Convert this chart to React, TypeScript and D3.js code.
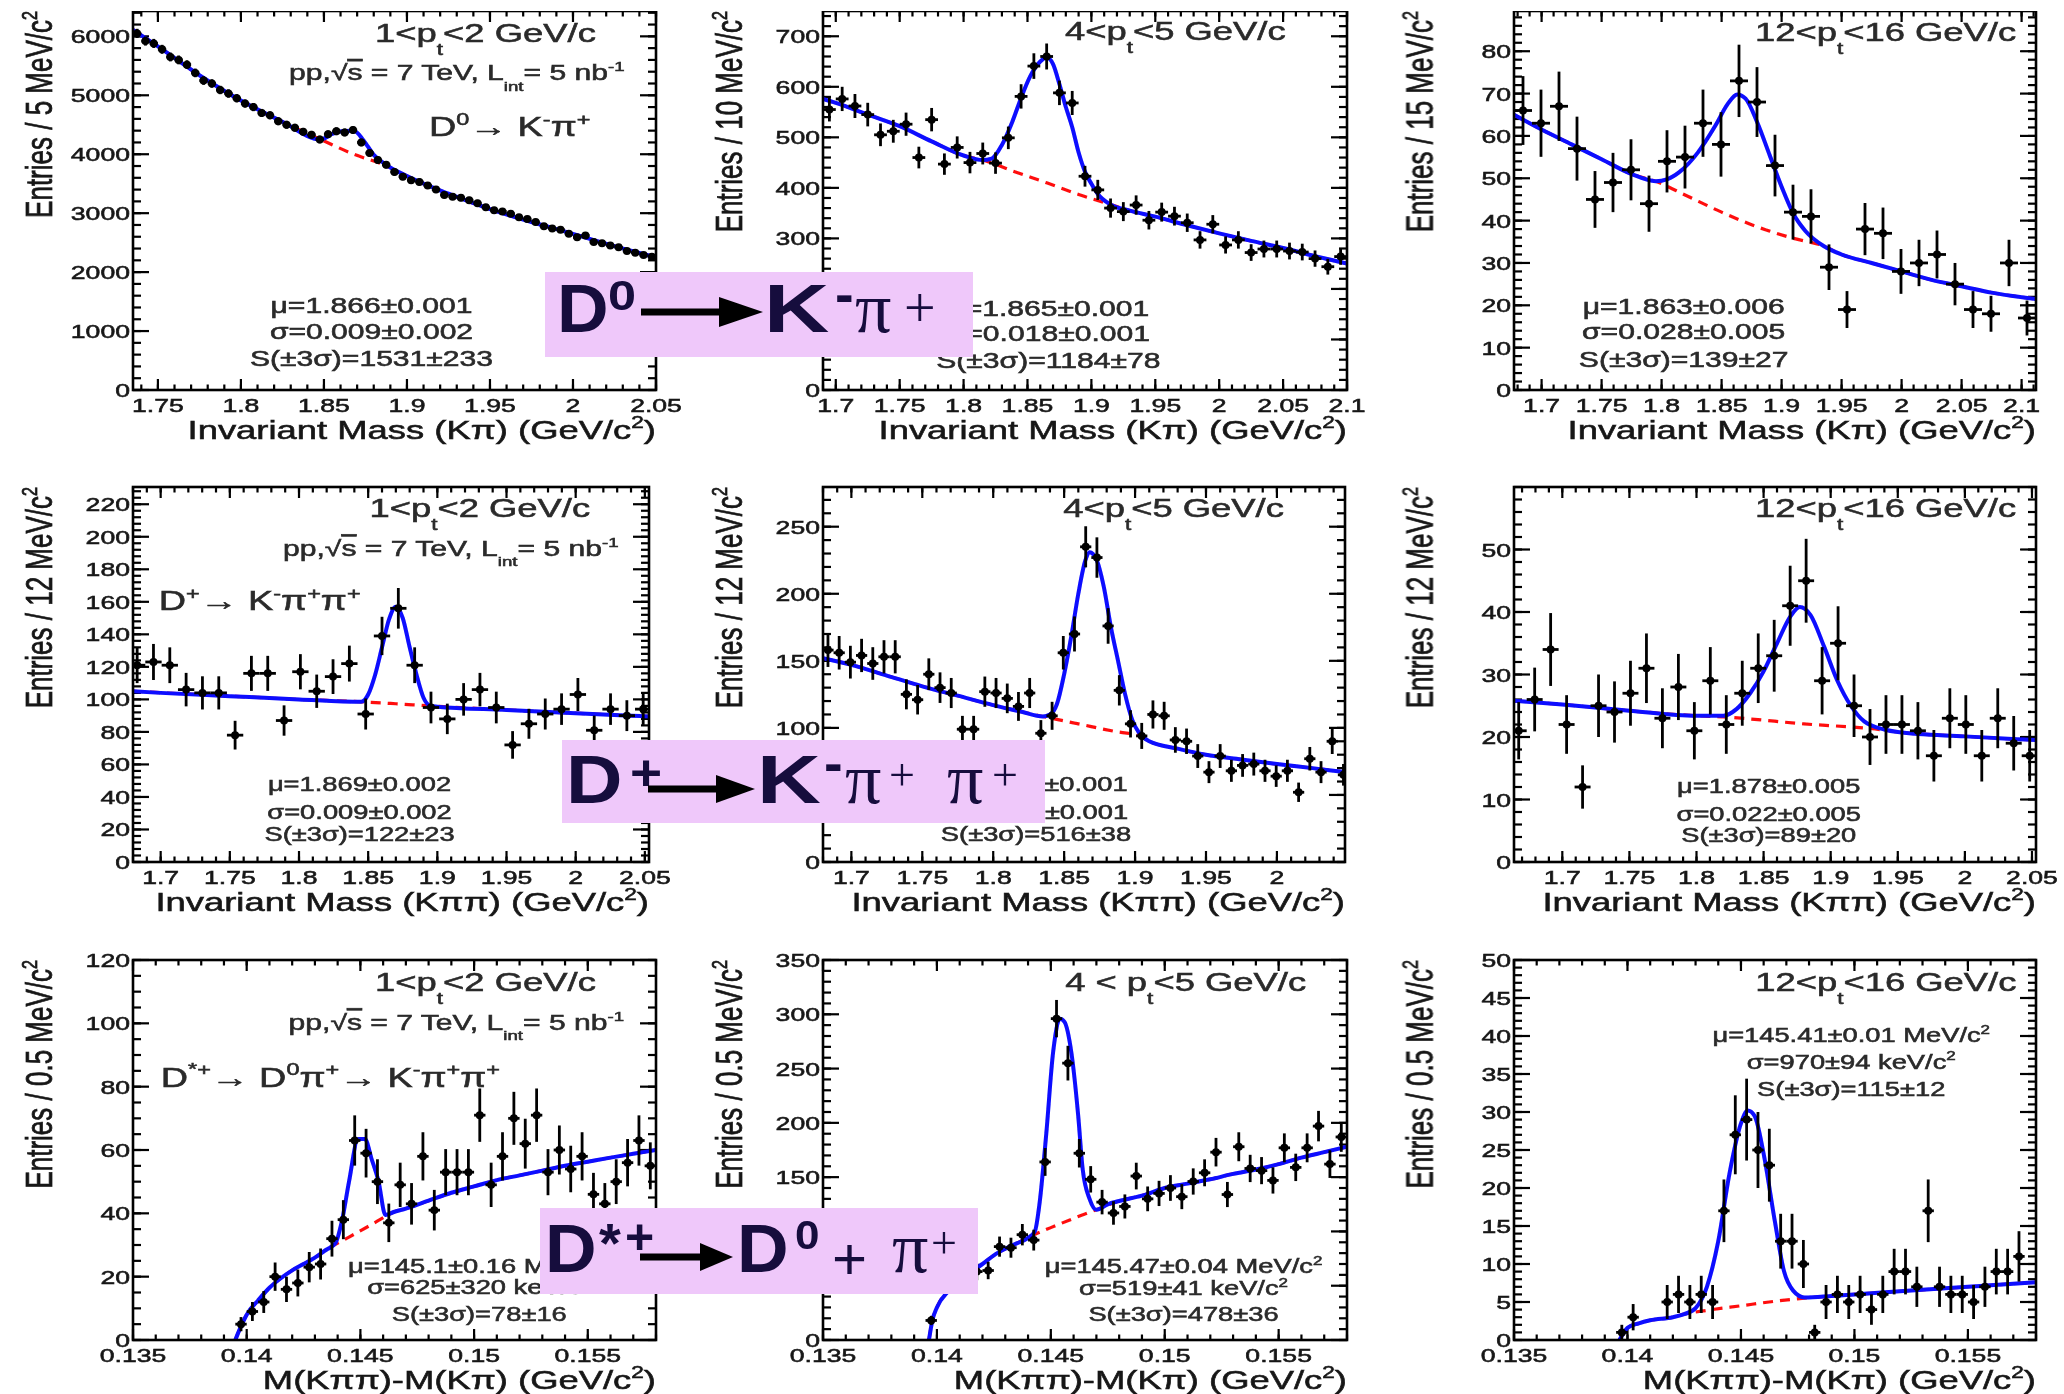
import React from "react";
import * as d3 from "d3";

type Pt = [number, number];
type Seg = { t: string; s?: "sup" | "sub"; o?: boolean };

const SX = 1.4;
const FONT = "'Liberation Sans', Arial, Helvetica, sans-serif";
const SERIF = "'Liberation Serif', 'Times New Roman', serif";
const INK = "#151515";
const NOTE = "#2a2a2a";
const BOX_FILL = "#efc8fa";
const BOX_INK = "#14083c";

// ================= Row 1 : D0 -> K- pi+ =================
// 1 < pt < 2 GeV/c
const d0aStart = 1.7375;
const d0aBin = 0.005;
const d0aCounts = [
  6050, 5920, 5880, 5780, 5650, 5600, 5520, 5380, 5250, 5200,
  5090, 5030, 4950, 4860, 4800, 4700, 4660, 4560, 4500, 4450,
  4380, 4330, 4250, 4340, 4390, 4370, 4410, 4200, 4020, 3900,
  3820, 3700, 3620, 3560, 3530, 3470, 3400, 3310, 3280, 3260,
  3220, 3170, 3100, 3050, 3030, 2990, 2930, 2900, 2850, 2780,
  2740, 2720, 2650, 2590, 2620, 2510, 2490, 2450, 2420, 2360,
  2330, 2290, 2260,
];
const d0aFit: Pt[] = [
  [1.735, 6110], [1.75, 5830], [1.775, 5340], [1.8, 4910], [1.825, 4550], [1.848, 4250],
  [1.855, 4345], [1.862, 4395], [1.868, 4400], [1.874, 4230], [1.88, 3990], [1.887, 3830],
  [1.9, 3630], [1.925, 3330], [1.95, 3070], [1.975, 2850], [2.0, 2650], [2.025, 2440], [2.05, 2250],
];
const d0aBkg: Pt[] = [
  [1.735, 6110], [1.75, 5830], [1.775, 5340], [1.8, 4910], [1.825, 4550], [1.848, 4250],
  [1.868, 4000], [1.887, 3810], [1.9, 3630], [1.925, 3330], [1.95, 3070], [1.975, 2850],
  [2.0, 2650], [2.025, 2440], [2.05, 2250],
];
// 4 < pt < 5 GeV/c
const d0bStart = 1.695;
const d0bBin = 0.01;
const d0bCounts = [
  555, 576, 562, 545, 505, 512, 526, 460, 535, 447,
  480, 450, 468, 449, 499, 581, 641, 660, 588, 568,
  423, 396, 360, 353, 366, 336, 352, 344, 331, 297,
  328, 287, 297, 272, 279, 279, 275, 273, 260, 244, 264,
];
const d0bFit: Pt[] = [
  [1.69, 576], [1.7, 568], [1.725, 545], [1.75, 522], [1.775, 492], [1.8, 464], [1.815, 455],
  [1.822, 458], [1.83, 485], [1.838, 530], [1.845, 578], [1.852, 620], [1.86, 650], [1.865, 658],
  [1.87, 645], [1.875, 605], [1.88, 560], [1.885, 520], [1.89, 470], [1.895, 432], [1.9, 408],
  [1.905, 388], [1.915, 367], [1.93, 355], [1.95, 343], [1.975, 326], [2.0, 310], [2.025, 295],
  [2.05, 281], [2.075, 265], [2.1, 250],
];
const d0bBkg: Pt[] = [
  [1.69, 576], [1.7, 568], [1.725, 545], [1.75, 522], [1.775, 492], [1.8, 464], [1.815, 455],
  [1.84, 432], [1.865, 410], [1.89, 387], [1.915, 367], [1.93, 355], [1.95, 343], [1.975, 326],
  [2.0, 310], [2.025, 295], [2.05, 281], [2.075, 265], [2.1, 250],
];
// 12 < pt < 16 GeV/c
const d0cStart = 1.6845;
const d0cBin = 0.015;
const d0cCounts = [
  66, 63, 67, 57, 45, 49, 52, 44, 54, 55,
  63, 58, 73, 68, 53, 42, 41, 29, 19, 38,
  37, 28, 30, 32, 25, 19, 18, 30, 17,
];
const d0cFit: Pt[] = [
  [1.677, 65], [1.7, 61.5], [1.725, 58], [1.75, 54.5], [1.775, 51], [1.795, 49.3], [1.805, 49.8],
  [1.815, 51.5], [1.83, 56], [1.845, 62.5], [1.855, 67.5], [1.863, 69.8], [1.87, 68.8], [1.88, 63],
  [1.89, 55.5], [1.9, 48], [1.91, 41.5], [1.92, 37.5], [1.935, 34], [1.95, 32], [1.975, 30],
  [2.0, 28], [2.025, 26], [2.05, 24.5], [2.075, 23], [2.112, 21.5],
];
const d0cBkg: Pt[] = [
  [1.677, 65], [1.7, 61.5], [1.725, 58], [1.75, 54.5], [1.775, 51], [1.795, 49.3], [1.82, 46],
  [1.85, 42], [1.88, 38.5], [1.91, 35.8], [1.935, 34], [1.95, 32], [1.975, 30], [2.0, 28],
  [2.025, 26], [2.05, 24.5], [2.075, 23], [2.112, 21.5],
];

// ================= Row 2 : D+ -> K- pi+ pi+ =================
const dpaStart = 1.683;
const dpaBin = 0.0118;
const dpaCounts = [
  121, 123, 121, 106, 104, 104, 78, 116, 116, 87,
  117, 105, 114, 122, 91, 139, 156, 121, 95, 88,
  100, 106, 95, 72, 85, 91, 94, 103, 81, 94, 90, 94,
];
const dpaFit: Pt[] = [
  [1.68, 105], [1.7, 104], [1.75, 102], [1.8, 100], [1.845, 98.5], [1.85, 103], [1.855, 115],
  [1.86, 132], [1.865, 149], [1.87, 157], [1.875, 150], [1.88, 132], [1.885, 115], [1.89, 101],
  [1.895, 96], [1.9, 95.5], [1.95, 93.5], [2.0, 91.5], [2.053, 89.5],
];
const dpaBkg: Pt[] = [
  [1.68, 105], [1.75, 102], [1.8, 100], [1.845, 98.5], [1.87, 97.3], [1.895, 96], [1.95, 93.5],
  [2.0, 91.5], [2.053, 89.5],
];
const dpbStart = 1.6835;
const dpbBin = 0.0079;
const dpbCounts = [
  158, 156, 149, 154, 148, 153, 153, 125, 121, 140,
  130, 126, 99, 99, 127, 126, 122, 116, 126, 96,
  109, 156, 170, 235, 227, 176, 128, 103, 94, 110,
  109, 91, 90, 79, 67, 79, 68, 72, 73, 68,
  64, 68, 52, 77, 67, 90, 65,
];
const dpbFit: Pt[] = [
  [1.68, 152], [1.7, 147], [1.725, 139], [1.75, 131], [1.775, 124], [1.8, 117], [1.82, 112],
  [1.835, 108.5], [1.84, 110], [1.845, 118], [1.85, 140], [1.855, 168], [1.86, 200], [1.865, 225],
  [1.868, 231], [1.873, 225], [1.878, 205], [1.883, 175], [1.888, 150], [1.893, 125], [1.898, 106],
  [1.903, 96], [1.91, 90], [1.93, 84.5], [1.95, 80], [1.975, 76.5], [2.0, 73], [2.025, 70], [2.048, 67],
];
const dpbBkg: Pt[] = [
  [1.68, 152], [1.7, 147], [1.725, 139], [1.75, 131], [1.775, 124], [1.8, 117], [1.82, 112],
  [1.835, 108.5], [1.86, 103], [1.885, 97.5], [1.903, 94], [1.91, 90], [1.93, 84.5], [1.95, 80],
  [1.975, 76.5], [2.0, 73], [2.025, 70], [2.048, 67],
];
const dpcStart = 1.6675;
const dpcBin = 0.0119;
const dpcCounts = [
  21, 26, 34, 22, 12, 25, 24, 27, 31, 23,
  28, 21, 29, 22, 27, 31, 33, 41, 45, 29,
  35, 25, 20, 22, 22, 21, 17, 23, 22, 17, 23, 19, 17,
];
const dpcFit: Pt[] = [
  [1.664, 25.8], [1.7, 25.2], [1.75, 24.2], [1.8, 23.4], [1.82, 23.4], [1.83, 24.5], [1.84, 27],
  [1.85, 30.5], [1.86, 35], [1.87, 39.3], [1.877, 40.8], [1.885, 39.5], [1.895, 34.5], [1.905, 29],
  [1.915, 25], [1.925, 22.5], [1.94, 21.2], [1.95, 20.8], [2.0, 20.1], [2.053, 19.5],
];
const dpcBkg: Pt[] = [
  [1.664, 25.8], [1.7, 25.2], [1.75, 24.2], [1.8, 23.4], [1.82, 23.2], [1.88, 22.1], [1.94, 21.1],
  [1.95, 20.8], [2.0, 20.1], [2.053, 19.5],
];

// ================= Row 3 : D*+ -> D0 pi+ =================
const dsaStart = 0.13975;
const dsaBin = 0.0005;
const dsaCounts = [
  5, 9, 12, 20, 16, 18, 23, 24, 32, 38,
  63, 59, 50, 37, 49, 43, 58, 41, 53, 53,
  53, 71, 49, 58, 70, 62, 71, 53, 60, 54,
  58, 46, 43, 50, 56, 63, 55,
];
const dsaFit: Pt[] = [
  [0.1395, 0], [0.1397, 3.5], [0.14, 8], [0.1405, 12.5], [0.141, 16.5], [0.1415, 19.5], [0.142, 22],
  [0.1425, 24], [0.143, 26], [0.1435, 28.5], [0.1439, 30.5], [0.1442, 38], [0.1445, 50],
  [0.1449, 63.5], [0.1452, 63.5], [0.1455, 57], [0.1458, 50], [0.1461, 39.5], [0.1465, 40.5],
  [0.147, 41.5], [0.148, 44], [0.149, 46.5], [0.15, 48.5], [0.151, 50.5], [0.152, 52], [0.153, 53.5],
  [0.154, 55], [0.155, 56.3], [0.156, 57.6], [0.157, 58.8], [0.158, 60],
];
const dsaBkg: Pt[] = [
  [0.1395, 0], [0.1397, 3.5], [0.14, 8], [0.1405, 12.5], [0.141, 16.5], [0.1415, 19.5], [0.142, 22],
  [0.1425, 24], [0.143, 26], [0.1435, 28.5], [0.1445, 32.5], [0.1455, 36.5], [0.1461, 39],
  [0.1465, 40.5], [0.147, 41.5], [0.148, 44], [0.149, 46.5], [0.15, 48.5], [0.151, 50.5],
  [0.152, 52], [0.153, 53.5], [0.154, 55], [0.155, 56.3], [0.156, 57.6], [0.157, 58.8], [0.158, 60],
];
const dsbStart = 0.13975;
const dsbBin = 0.0005;
const dsbCounts = [
  18, 50, 55, 60, 63, 64, 86, 85, 97, 92,
  164, 296, 255, 172, 148, 127, 117, 123, 151, 130,
  135, 140, 132, 146, 154, 173, 134, 178, 158, 156,
  147, 177, 159, 177, 197, 162, 187,
];
const dsbFit: Pt[] = [
  [0.13965, 0], [0.1398, 18], [0.14, 30], [0.1405, 45], [0.141, 55], [0.1415, 63], [0.142, 70],
  [0.1425, 78], [0.143, 84], [0.1435, 89], [0.144, 94], [0.1443, 100], [0.1445, 125], [0.1448, 190],
  [0.1451, 265], [0.1454, 296], [0.1456, 293], [0.1459, 265], [0.1462, 207], [0.1464, 157],
  [0.1467, 130], [0.147, 120], [0.1475, 125], [0.148, 128], [0.149, 133], [0.15, 140], [0.151, 144],
  [0.152, 148], [0.153, 153], [0.154, 157], [0.155, 162], [0.156, 168], [0.157, 173], [0.158, 178],
];
const dsbBkg: Pt[] = [
  [0.13965, 0], [0.1398, 18], [0.14, 30], [0.1405, 45], [0.141, 55], [0.1415, 63], [0.142, 70],
  [0.1425, 78], [0.143, 84], [0.1435, 89], [0.144, 94.5], [0.145, 103.5], [0.146, 112], [0.147, 120],
  [0.148, 128], [0.149, 133], [0.15, 140], [0.151, 144], [0.152, 148], [0.153, 153], [0.154, 157],
  [0.155, 162], [0.156, 168], [0.157, 173], [0.158, 178],
];
const dscStart = 0.13975;
const dscBin = 0.0005;
const dscCounts: (number | null)[] = [
  1, 3, null, null, 5, 6, 5, 6, 5, 17,
  27, 29, 25, 23, 13, 13, 10, 1, 5, 6,
  5, 6, 4, 6, 9, 9, 7, 17, 7, 6,
  6, 5, 7, 9, 9, 11,
];
const dscFit: Pt[] = [
  [0.13965, 0], [0.1398, 0.8], [0.14, 1.6], [0.1405, 2.2], [0.141, 2.6], [0.142, 3.0], [0.1425, 3.4],
  [0.143, 4.2], [0.1435, 7], [0.144, 13], [0.1445, 22], [0.145, 28.5], [0.1453, 30.2], [0.1456, 29.5],
  [0.146, 24.5], [0.1465, 15.5], [0.1469, 9], [0.1473, 6.5], [0.1478, 5.6], [0.149, 5.8], [0.15, 6.0],
  [0.152, 6.4], [0.154, 6.8], [0.156, 7.2], [0.158, 7.6],
];
const dscBkg: Pt[] = [
  [0.13965, 0], [0.1398, 0.8], [0.14, 1.6], [0.1405, 2.2], [0.141, 2.6], [0.142, 3.0], [0.1425, 3.4],
  [0.1435, 3.9], [0.145, 4.5], [0.1465, 5.1], [0.1478, 5.5], [0.149, 5.8], [0.15, 6.0], [0.152, 6.4],
  [0.154, 6.8], [0.156, 7.2], [0.158, 7.6],
];

// ================= axes =================
const xTicksKpi = [1.75, 1.8, 1.85, 1.9, 1.95, 2, 2.05];
const xTicksKpi2 = [1.7, 1.75, 1.8, 1.85, 1.9, 1.95, 2, 2.05, 2.1];
const xTicksKpipi = [1.7, 1.75, 1.8, 1.85, 1.9, 1.95, 2, 2.05];
const xTicksDelta = [0.135, 0.14, 0.145, 0.15, 0.155];
const yTicksA = [0, 1000, 2000, 3000, 4000, 5000, 6000];
const yTicksB = [0, 100, 200, 300, 400, 500, 600, 700];
const yTicksC = [0, 10, 20, 30, 40, 50, 60, 70, 80];
const yTicksD = [0, 20, 40, 60, 80, 100, 120, 140, 160, 180, 200, 220];
const yTicksE = [0, 50, 100, 150, 200, 250];
const yTicksF = [0, 10, 20, 30, 40, 50];
const yTicksG = [0, 20, 40, 60, 80, 100, 120];
const yTicksH = [0, 50, 100, 150, 200, 250, 300, 350];
const yTicksI = [0, 5, 10, 15, 20, 25, 30, 35, 40, 45, 50];

const c2: Seg = { t: "2", s: "sup" };
const xTitleKpi: Seg[] = [{ t: "Invariant Mass (Kπ) (GeV/c" }, c2, { t: ")" }];
const xTitleKpipi: Seg[] = [{ t: "Invariant Mass (Kππ) (GeV/c" }, c2, { t: ")" }];
const xTitleDelta: Seg[] = [{ t: "M(Kππ)-M(Kπ) (GeV/c" }, c2, { t: ")" }];
const yT = (w: string): Seg[] => [{ t: `Entries / ${w} MeV/c` }, c2];
const ptT = (a: string, b: string, sp = ""): Seg[] => [
  { t: `${a}${sp}<${sp}p` }, { t: "t", s: "sub" }, { t: `<${b} GeV/c` },
];
const ppLine: Seg[] = [
  { t: "pp,√" }, { t: "s", o: true }, { t: " = 7 TeV, L" }, { t: "int", s: "sub" }, { t: "= 5 nb" },
  { t: "-1", s: "sup" },
];
const decayD0: Seg[] = [
  { t: "D" }, { t: "0", s: "sup" }, { t: "→ K" }, { t: "-", s: "sup" }, { t: "π" }, { t: "+", s: "sup" },
];
const decayDp: Seg[] = [
  { t: "D" }, { t: "+", s: "sup" }, { t: "→ K" }, { t: "-", s: "sup" }, { t: "π" }, { t: "+", s: "sup" },
  { t: "π" }, { t: "+", s: "sup" },
];
const decayDs: Seg[] = [
  { t: "D" }, { t: "*+", s: "sup" }, { t: "→ D" }, { t: "0", s: "sup" }, { t: "π" }, { t: "+", s: "sup" },
  { t: "→ K" }, { t: "-", s: "sup" }, { t: "π" }, { t: "+", s: "sup" }, { t: "π" }, { t: "+", s: "sup" },
];
const st = (s: string): Seg[] => [{ t: s }];
const stc = (s: string): Seg[] => [{ t: s }, c2];

type Note = { segs: Seg[]; fx: number; fy: number; size: number; anchor: string };
type Panel = {
  id: string;
  frame: [number, number, number, number];
  xDomain: Pt; yDomain: Pt;
  xTicks: number[]; yTicks: number[]; xMinor: number; yMinor: number;
  start: number; bin: number; counts: (number | null)[];
  fit: Pt[]; bkg: Pt[];
  yTitle: Seg[]; xTitle: Seg[];
  notes: Note[];
};

const statNotes = (lines: Seg[][], fx: number, fys: number[], size: number): Note[] =>
  lines.map((segs, i) => ({ segs, fx, fy: fys[i], size, anchor: "middle" }));

const panels: Panel[] = [
  {
    id: "a", frame: [133, 656, 11, 390], xDomain: [1.735, 2.05], yDomain: [0, 6430],
    xTicks: xTicksKpi, yTicks: yTicksA, xMinor: 0.01, yMinor: 200,
    start: d0aStart, bin: d0aBin, counts: d0aCounts, fit: d0aFit, bkg: d0aBkg,
    yTitle: yT("5"), xTitle: xTitleKpi,
    notes: [
      { segs: ptT("1", "2"), fx: 0.885, fy: 0.081, size: 26, anchor: "end" },
      { segs: ppLine, fx: 0.94, fy: 0.183, size: 21.5, anchor: "end" },
      { segs: decayD0, fx: 0.566, fy: 0.33, size: 27, anchor: "start" },
      ...statNotes([st("μ=1.866±0.001"), st("σ=0.009±0.002"), st("S(±3σ)=1531±233")], 0.456, [0.798, 0.865, 0.937], 21.5),
    ],
  },
  {
    id: "b", frame: [823, 1347, 11, 390], xDomain: [1.69, 2.1], yDomain: [0, 750],
    xTicks: xTicksKpi2, yTicks: yTicksB, xMinor: 0.01, yMinor: 20,
    start: d0bStart, bin: d0bBin, counts: d0bCounts, fit: d0bFit, bkg: d0bBkg,
    yTitle: yT("10"), xTitle: xTitleKpi,
    notes: [
      { segs: ptT("4", "5"), fx: 0.883, fy: 0.077, size: 26, anchor: "end" },
      ...statNotes([st("μ=1.865±0.001"), st("σ=0.018±0.001"), st("S(±3σ)=1184±78")], 0.43, [0.805, 0.87, 0.942], 21.5),
    ],
  },
  {
    id: "c", frame: [1514, 2036, 11, 390], xDomain: [1.677, 2.112], yDomain: [0, 89.5],
    xTicks: xTicksKpi2, yTicks: yTicksC, xMinor: 0.01, yMinor: 2,
    start: d0cStart, bin: d0cBin, counts: d0cCounts, fit: d0cFit, bkg: d0cBkg,
    yTitle: yT("15"), xTitle: xTitleKpi,
    notes: [
      { segs: ptT("12", "16"), fx: 0.962, fy: 0.08, size: 26, anchor: "end" },
      ...statNotes([st("μ=1.863±0.006"), st("σ=0.028±0.005"), st("S(±3σ)=139±27")], 0.325, [0.8, 0.865, 0.94], 21.5),
    ],
  },
  {
    id: "d", frame: [133, 649, 487, 862], xDomain: [1.68, 2.053], yDomain: [0, 230.6],
    xTicks: xTicksKpipi, yTicks: yTicksD, xMinor: 0.01, yMinor: 4,
    start: dpaStart, bin: dpaBin, counts: dpaCounts, fit: dpaFit, bkg: dpaBkg,
    yTitle: yT("12"), xTitle: xTitleKpipi,
    notes: [
      { segs: ptT("1", "2"), fx: 0.886, fy: 0.081, size: 26, anchor: "end" },
      { segs: ppLine, fx: 0.941, fy: 0.183, size: 21.5, anchor: "end" },
      { segs: decayDp, fx: 0.05, fy: 0.329, size: 27, anchor: "start" },
      ...statNotes([st("μ=1.869±0.002"), st("σ=0.009±0.002"), st("S(±3σ)=122±23")], 0.439, [0.81, 0.885, 0.943], 19.5),
    ],
  },
  {
    id: "e", frame: [823, 1345, 487, 862], xDomain: [1.68, 2.048], yDomain: [0, 279.6],
    xTicks: xTicksKpipi.slice(0, 7), yTicks: yTicksE, xMinor: 0.01, yMinor: 10,
    start: dpbStart, bin: dpbBin, counts: dpbCounts, fit: dpbFit, bkg: dpbBkg,
    yTitle: yT("12"), xTitle: xTitleKpipi,
    notes: [
      { segs: ptT("4", "5"), fx: 0.883, fy: 0.081, size: 26, anchor: "end" },
      ...statNotes([st("μ=1.869±0.001"), st("σ=0.012±0.001"), st("S(±3σ)=516±38")], 0.408, [0.81, 0.885, 0.943], 19.5),
    ],
  },
  {
    id: "f", frame: [1514, 2036, 487, 862], xDomain: [1.664, 2.053], yDomain: [0, 60],
    xTicks: xTicksKpipi, yTicks: yTicksF, xMinor: 0.01, yMinor: 2,
    start: dpcStart, bin: dpcBin, counts: dpcCounts, fit: dpcFit, bkg: dpcBkg,
    yTitle: yT("12"), xTitle: xTitleKpipi,
    notes: [
      { segs: ptT("12", "16"), fx: 0.962, fy: 0.081, size: 26, anchor: "end" },
      ...statNotes([st("μ=1.878±0.005"), st("σ=0.022±0.005"), st("S(±3σ)=89±20")], 0.488, [0.816, 0.891, 0.947], 19.5),
    ],
  },
  {
    id: "g", frame: [133, 656, 960, 1340], xDomain: [0.135, 0.158], yDomain: [0, 120],
    xTicks: xTicksDelta, yTicks: yTicksG, xMinor: 0.001, yMinor: 5,
    start: dsaStart, bin: dsaBin, counts: dsaCounts, fit: dsaFit, bkg: dsaBkg,
    yTitle: yT("0.5"), xTitle: xTitleDelta,
    notes: [
      { segs: ptT("1", "2"), fx: 0.885, fy: 0.081, size: 26, anchor: "end" },
      { segs: ppLine, fx: 0.939, fy: 0.183, size: 21.5, anchor: "end" },
      { segs: decayDs, fx: 0.053, fy: 0.333, size: 27, anchor: "start" },
      ...statNotes([stc("μ=145.1±0.16 MeV/c"), stc("σ=625±320 keV/c"), st("S(±3σ)=78±16")], 0.662, [0.823, 0.88, 0.951], 19.5),
    ],
  },
  {
    id: "h", frame: [823, 1347, 960, 1340], xDomain: [0.135, 0.158], yDomain: [0, 350],
    xTicks: xTicksDelta, yTicks: yTicksH, xMinor: 0.001, yMinor: 10,
    start: dsbStart, bin: dsbBin, counts: dsbCounts, fit: dsbFit, bkg: dsbBkg,
    yTitle: yT("0.5"), xTitle: xTitleDelta,
    notes: [
      { segs: ptT("4", "5", " "), fx: 0.922, fy: 0.081, size: 26, anchor: "end" },
      ...statNotes([stc("μ=145.47±0.04 MeV/c"), stc("σ=519±41 keV/c"), st("S(±3σ)=478±36")], 0.688, [0.824, 0.881, 0.951], 19.5),
    ],
  },
  {
    id: "i", frame: [1514, 2036, 960, 1340], xDomain: [0.135, 0.158], yDomain: [0, 50],
    xTicks: xTicksDelta, yTicks: yTicksI, xMinor: 0.001, yMinor: 1,
    start: dscStart, bin: dscBin, counts: dscCounts, fit: dscFit, bkg: dscBkg,
    yTitle: yT("0.5"), xTitle: xTitleDelta,
    notes: [
      { segs: ptT("12", "16"), fx: 0.9625, fy: 0.081, size: 26, anchor: "end" },
      ...statNotes([stc("μ=145.41±0.01 MeV/c"), stc("σ=970±94 keV/c"), st("S(±3σ)=115±12")], 0.646, [0.216, 0.286, 0.357], 19.5),
    ],
  },
];

// ================= helpers =================
function Rich({ segs, size }: { segs: Seg[]; size: number }) {
  let cur = 0;
  return (
    <>
      {segs.map((sg, i) => {
        const target = sg.s === "sup" ? -0.42 * size : sg.s === "sub" ? 0.5 * size : 0;
        const dy = target - cur;
        cur = target;
        return (
          <tspan key={i} dy={dy} fontSize={sg.s ? size * 0.62 : size}
            style={sg.o ? { textDecoration: "overline" } : undefined}>
            {sg.t}
          </tspan>
        );
      })}
    </>
  );
}

function SText({ x, y, segs, size, anchor = "start", fill = INK, rotate = false }: any) {
  const tf = rotate
    ? `translate(${x},${y}) rotate(-90) scale(1,${SX})`
    : `translate(${x},${y}) scale(${SX},1)`;
  return (
    <text transform={tf} textAnchor={anchor} fontFamily={FONT} fontSize={size} fill={fill}
      stroke={fill} strokeWidth={0.55} style={{ whiteSpace: "pre" }}>
      <Rich segs={segs} size={size} />
    </text>
  );
}

function multiples(lo: number, hi: number, step: number) {
  const a = Math.ceil(lo / step - 1e-6);
  const b = Math.floor(hi / step + 1e-6);
  return d3.range(a, b + 1).map((i) => i * step);
}

function PanelView({ p }: { p: Panel }) {
  const [x0, x1, y0, y1] = p.frame;
  const x = d3.scaleLinear().domain(p.xDomain).range([x0, x1]);
  const y = d3.scaleLinear().domain(p.yDomain).range([y1, y0]);
  const line = d3.line<Pt>().x((d) => x(d[0])).y((d) => y(d[1])).curve(d3.curveMonotoneX);
  const clip = `clip-${p.id}`;
  const w = x1 - x0;
  const h = y1 - y0;
  const xMinorT = multiples(p.xDomain[0], p.xDomain[1], p.xMinor);
  const yMinorT = multiples(p.yDomain[0], p.yDomain[1], p.yMinor);
  const XM = 11, Xm = 5.5, YM = 16, Ym = 8;
  const points = p.counts
    .map((c, i) => (c == null ? null : { cx: p.start + i * p.bin, v: c }))
    .filter(Boolean) as { cx: number; v: number }[];
  return (
    <g>
      <defs>
        <clipPath id={clip}>
          <rect x={x0} y={y0} width={w} height={h} />
        </clipPath>
      </defs>
      {/* ticks */}
      <g stroke="#000" strokeWidth={2.2}>
        {xMinorT.map((t, i) => (
          <g key={"xm" + i}>
            <line x1={x(t)} x2={x(t)} y1={y1} y2={y1 - Xm} />
            <line x1={x(t)} x2={x(t)} y1={y0} y2={y0 + Xm} />
          </g>
        ))}
        {p.xTicks.map((t, i) => (
          <g key={"xM" + i}>
            <line x1={x(t)} x2={x(t)} y1={y1} y2={y1 - XM} />
            <line x1={x(t)} x2={x(t)} y1={y0} y2={y0 + XM} />
          </g>
        ))}
        {yMinorT.map((t, i) => (
          <g key={"ym" + i}>
            <line x1={x0} x2={x0 + Ym} y1={y(t)} y2={y(t)} />
            <line x1={x1} x2={x1 - Ym} y1={y(t)} y2={y(t)} />
          </g>
        ))}
        {p.yTicks.map((t, i) => (
          <g key={"yM" + i}>
            <line x1={x0} x2={x0 + YM} y1={y(t)} y2={y(t)} />
            <line x1={x1} x2={x1 - YM} y1={y(t)} y2={y(t)} />
          </g>
        ))}
      </g>
      {/* data & fit */}
      <g clipPath={`url(#${clip})`}>
        <path d={line(p.bkg) || ""} fill="none" stroke="#ff1010" strokeWidth={3.2} strokeDasharray="10,7" />
        <path d={line(p.fit) || ""} fill="none" stroke="#0a0aff" strokeWidth={4} strokeLinejoin="round" />
        <g stroke="#000" strokeWidth={2.8}>
          {points.map((d, i) => {
            const e = Math.sqrt(d.v);
            return (
              <g key={i}>
                <line x1={x(d.cx)} x2={x(d.cx)} y1={y(d.v + e)} y2={y(Math.max(0, d.v - e))} />
                <line x1={x(d.cx - p.bin / 2)} x2={x(d.cx + p.bin / 2)} y1={y(d.v)} y2={y(d.v)} />
              </g>
            );
          })}
        </g>
        <g fill="#000">
          {points.map((d, i) => (
            <circle key={i} cx={x(d.cx)} cy={y(d.v)} r={4} />
          ))}
        </g>
      </g>
      <rect x={x0} y={y0} width={w} height={h} fill="none" stroke="#000" strokeWidth={2.6} />
      {/* tick labels */}
      {p.xTicks.map((t, i) => (
        <SText key={"xl" + i} x={x(t)} y={y1 + 22} segs={[{ t: String(t) }]} size={19} anchor="middle" />
      ))}
      {p.yTicks.map((t, i) => (
        <SText key={"yl" + i} x={x0 - 3} y={y(t) + 7} segs={[{ t: String(t) }]} size={19} anchor="end" />
      ))}
      {/* titles */}
      <SText x={x1} y={y1 + 49} segs={p.xTitle} size={26} anchor="end" />
      <SText x={x0 - 81} y={y0} segs={p.yTitle} size={26} anchor="end" rotate />
      {/* notes */}
      {p.notes.map((n, i) => (
        <SText key={"n" + i} x={x0 + n.fx * w} y={y0 + n.fy * h} segs={n.segs} size={n.size}
          anchor={n.anchor} fill={NOTE} />
      ))}
    </g>
  );
}

// ================= overlay labels =================
function Arrow({ xa, xb, yc, head, half }: any) {
  return (
    <g fill="#000" stroke="none">
      <rect x={xa} y={yc - 3.5} width={xb - head - xa + 4} height={7} />
      <polygon points={`${xb - head},${yc - half} ${xb},${yc} ${xb - head},${yc + half}`} />
    </g>
  );
}

function B({ x, y, s, t, serif = false, bold = true, sx = 1 }: any) {
  return (
    <text transform={`translate(${x},${y}) scale(${sx},1)`} fontSize={s} fontWeight={bold ? 700 : 400}
      fontFamily={serif ? SERIF : FONT} fill={BOX_INK}>
      {t}
    </text>
  );
}

function Overlays() {
  return (
    <g>
      <rect x={545} y={272} width={428} height={85} fill={BOX_FILL} />
      <B x={557} y={332} s={68} t="D" sx={1.05} />
      <B x={608} y={310} s={42} t="0" sx={1.2} />
      <Arrow xa={641} xb={763} yc={312} head={44} half={15} />
      <B x={764} y={332} s={68} t="K" sx={1.33} />
      <B x={835} y={313} s={56} t="-" />
      <B x={855} y={332} s={72} t="π" serif bold={false} />
      <B x={904} y={327} s={56} t="+" serif bold={false} />

      <rect x={562} y={740} width={483} height={83} fill={BOX_FILL} />
      <B x={566} y={803} s={68} t="D" sx={1.15} />
      <B x={630} y={790} s={50} t="+" sx={1.1} />
      <Arrow xa={648} xb={755} yc={789} head={39} half={14} />
      <B x={757} y={803} s={68} t="K" sx={1.3} />
      <B x={824} y={782} s={56} t="-" />
      <B x={845} y={803} s={72} t="π" serif bold={false} />
      <B x={889} y={790} s={46} t="+" serif bold={false} />
      <B x={947} y={803} s={72} t="π" serif bold={false} />
      <B x={992} y={790} s={46} t="+" serif bold={false} />

      <rect x={540} y={1208} width={438} height={86} fill={BOX_FILL} />
      <B x={545} y={1272} s={68} t="D" sx={1.05} />
      <B x={599} y={1262} s={56} t="*" />
      <B x={625} y={1254} s={50} t="+" />
      <Arrow xa={640} xb={733} yc={1257} head={33} half={14} />
      <B x={737} y={1272} s={68} t="D" sx={1.05} />
      <B x={795} y={1249} s={40} t="0" sx={1.1} />
      <B x={832} y={1279} s={60} t="+" bold={false} />
      <B x={892} y={1272} s={72} t="π" serif bold={false} />
      <B x={931} y={1258} s={46} t="+" serif bold={false} />
    </g>
  );
}

export default function App() {
  return (
    <svg width={2064} height={1394} viewBox="0 0 2064 1394"
      style={{ position: "absolute", left: 0, top: 0, background: "#fff", display: "block" }}>
      <defs>
        <filter id="soft" x="0" y="0" width="100%" height="100%">
          <feGaussianBlur stdDeviation={0.5} />
        </filter>
      </defs>
      <rect x={0} y={0} width={2064} height={1394} fill="#fff" />
      <g filter="url(#soft)">
        {panels.map((p) => (
          <PanelView key={p.id} p={p} />
        ))}
        <Overlays />
      </g>
    </svg>
  );
}
